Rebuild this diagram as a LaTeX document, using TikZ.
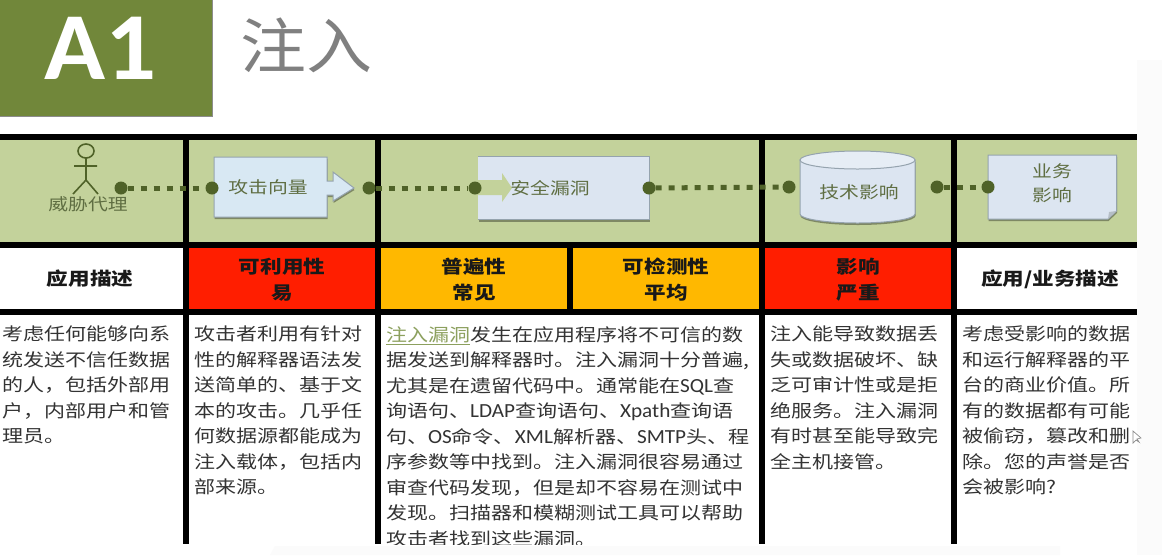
\documentclass[tikz,border=0pt]{standalone}
\usepackage{fontspec}
\setmainfont[FakeStretch=1.2]{Noto Sans CJK SC}
\newfontfamily\ltnf[FakeStretch=1.06]{Carlito}
\newfontfamily\bannerf[FakeStretch=1.05]{Carlito}
\newfontfamily\titlef[FakeStretch=1.1]{Noto Sans CJK SC}
\newcommand{\ltn}[1]{{\ltnf\fontsize{20}{25.5}\selectfont #1}}
\newcommand{\fwc}{\char"FF0C\relax}
\usetikzlibrary{shadows,arrows.meta}
\definecolor{bannergreen}{HTML}{71873A}
\definecolor{rowgreen}{HTML}{C3D29B}
\definecolor{hotred}{HTML}{FF1E00}
\definecolor{amber}{HTML}{FFB800}
\definecolor{dotgreen}{HTML}{4F6228}
\definecolor{labelolive}{HTML}{5F6E42}
\definecolor{bluebox}{HTML}{D8E8F3}
\definecolor{paleblue}{HTML}{DCE5F1}
\definecolor{edgeblue}{HTML}{95A3AE}
\definecolor{bodygray}{HTML}{333333}
\definecolor{linkgreen}{HTML}{8CA05E}
\tikzset{
  x=1pt,y=-1pt,
  blackbar/.style={fill=black,draw=none},
  dotnode/.style={circle,fill=dotgreen,draw=none,minimum size=13pt,inner sep=0pt},
  dotlink/.style={draw=dotgreen,line width=5pt,dash pattern=on 6pt off 7pt},
  headcell/.style={font=\fontsize{18}{26}\selectfont\bfseries,align=center,text=black!90,inner sep=0pt},
  iconlabel/.style={font=\fontsize{16.5}{24}\selectfont,align=center,text=labelolive,inner sep=0pt},
  bodytext/.style={font=\fontsize{17.5}{25.5}\selectfont,align=left,text=bodygray,anchor=north west,inner sep=0pt},
  shapebox/.style={draw=edgeblue,line width=1pt,drop shadow={shadow xshift=0.5pt,shadow yshift=-2pt,opacity=.35,fill=black}},
}
\begin{document}
\begin{tikzpicture}
\useasboundingbox (0,0) rectangle (1162,555);
\fill[white] (0,0) rectangle (1162,555);
% faint backdrop
\fill[black!1.5] (1137,60) -- (1162,60) -- (1162,555) -- (1137,555) -- cycle;
\fill[black!1.5] (270,555) -- (275,546) -- (1060,546) -- (1060,555) -- cycle;
% banner
\node[fill=bannergreen,draw=black!45,line width=1pt,anchor=north west,minimum width=213pt,minimum height=117pt,inner sep=0pt] (banner) at (-1,-1) {};
\node[font=\fontsize{96}{96}\selectfont\bannerf\bfseries,text=white,inner sep=0pt] (a1) at (100.5,48) {A1};
\node[font=\fontsize{60}{64}\selectfont\titlef,text=black!50,inner sep=0pt] (title) at (306,45) {注入};
% row fills
\fill[rowgreen] (0,140) rectangle (1137,242);
\fill[hotred] (189,248) rectangle (375,309);
\fill[amber] (381,248) rectangle (567,309);
\fill[amber] (573,248) rectangle (759,309);
\fill[hotred] (765,248) rectangle (951,309);
% black rules
\fill[blackbar] (0,134) rectangle (1137,140);
\fill[blackbar] (0,242) rectangle (1137,248);
\fill[blackbar] (0,309) rectangle (1137,315);
\fill[blackbar] (183,134) rectangle (189,544);
\fill[blackbar] (375,134) rectangle (381,544);
\fill[blackbar] (567,248) rectangle (573,315);
\fill[blackbar] (759,134) rectangle (765,544);
\fill[blackbar] (951,134) rectangle (957,544);
% actor
\begin{scope}[draw=dotgreen,line width=1.6pt]
\draw (86,151) ellipse (8pt and 7pt);
\draw (86,158) -- (86,180) (74,166) -- (97,166) (73,194) -- (86,180) -- (98,194);
\end{scope}
\node[iconlabel] (agent) at (88,204) {威胁代理};
% attack vector
\draw[shapebox,fill=bluebox] (214,157) -- (327,157) -- (327,181) -- (333,181) -- (333,172) -- (354,188) -- (333,201) -- (333,195) -- (327,195) -- (327,217) -- (214,217) -- cycle;
\node[iconlabel] (vector) at (268,187) {攻击向量};
% weakness
\node[shapebox,fill=paleblue,draw=paleblue,anchor=north west,minimum width=171pt,minimum height=63pt,inner sep=0pt] (weak) at (478,156) {};
\draw[edgeblue,line width=1pt] (478,156) -- (649,156) -- (649,219) -- (478,219);
\fill[rowgreen] (478,180) -- (502,180) -- (502,173) -- (512,188) -- (502,202) -- (502,195) -- (478,195) -- cycle;
\node[iconlabel] (weaklabel) at (550,188) {安全漏洞};
% technical impact
\draw[shapebox,fill=paleblue] (800,160) -- (800,214) arc[start angle=180,end angle=360,x radius=57.5pt,y radius=9pt] -- (915,160) -- cycle;
\draw[edgeblue,line width=1pt,fill=paleblue!70!white] (857.5,160) ellipse (57.5pt and 9pt);
\node[iconlabel] (tech) at (859,192) {技术影响};
% business impact
\draw[shapebox,fill=paleblue] (988,155) -- (1116.5,155) -- (1116.5,211) -- (1108,219) -- (988,219) -- cycle;
\fill[edgeblue!70] (1116.5,211) -- (1108,219) -- (1109,212) -- cycle;
\node[iconlabel] (biz) at (1052,183) {业务\\影响};
% dots and connectors
\node[dotnode] (d1) at (121,188) {};
\node[dotnode] (d2) at (212,188) {};
\node[dotnode] (d3) at (369,188) {};
\node[dotnode] (d4) at (475,188) {};
\node[dotnode] (d5) at (649,188) {};
\node[dotnode] (d6) at (789,187) {};
\node[dotnode] (d7) at (937,187) {};
\node[dotnode] (d8) at (988,187) {};
\draw[dotlink] (d1) -- (d2);
\draw[dotlink] (d3) -- (d4);
\draw[dotlink] (d5) -- (d6);
\draw[dotlink] (d7) -- (d8);
% header row
\node[headcell] (h1) at (90,279) {应用描述};
\node[headcell] (h2) at (282,280) {可利用性\\易};
\node[headcell] (h3) at (474,280) {普遍性\\常见};
\node[headcell] (h4) at (666,280) {可检测性\\平均};
\node[headcell] (h5) at (858,280) {影响\\严重};
\node[headcell] (h6) at (1050,279) {应用/业务描述};
% body
\begin{scope}
\clip (0,315) rectangle (1137,544);
\node[bodytext] (b1) at (2,326) {考虑任何能够向系\\统发送不信任数据\\的人\fwc 包括外部用\\户\fwc 内部用户和管\\理员。};
\node[bodytext] (b2) at (194,326) {攻击者利用有针对\\性的解释器语法发\\送简单的、基于文\\本的攻击。几乎任\\何数据源都能成为\\注入载体\fwc 包括内\\部来源。};
\node[bodytext] (b3) at (386,326) {\textcolor{linkgreen}{\underline{注入漏洞}}发生在应用程序将不可信的数\\据发送到解释器时。注入漏洞十分普遍,\\尤其是在遗留代码中。通常能在\ltn{SQL}查\\询语句、\ltn{LDAP}查询语句、\ltn{Xpath}查询语\\句、\ltn{OS}命令、\ltn{XML}解析器、\ltn{SMTP}头、程\\序参数等中找到。注入漏洞很容易通过\\审查代码发现\fwc 但是却不容易在测试中\\发现。扫描器和模糊测试工具可以帮助\\攻击者找到这些漏洞。};
\node[bodytext] (b4) at (770,326) {注入能导致数据丢\\失或数据破坏、缺\\乏可审计性或是拒\\绝服务。注入漏洞\\有时甚至能导致完\\全主机接管。};
\node[bodytext] (b5) at (962,326) {考虑受影响的数据\\和运行解释器的平\\台的商业价值。所\\有的数据都有可能\\被偷窃\fwc 篡改和删\\除。您的声誉是否\\会被影响?};
\end{scope}
% mouse pointer
\draw[black!45,fill=white,line width=.7pt] (1133,431) -- (1133,443) -- (1136,440) -- (1139,442) -- (1137,439) -- (1141,438) -- cycle;
\end{tikzpicture}
\end{document}
